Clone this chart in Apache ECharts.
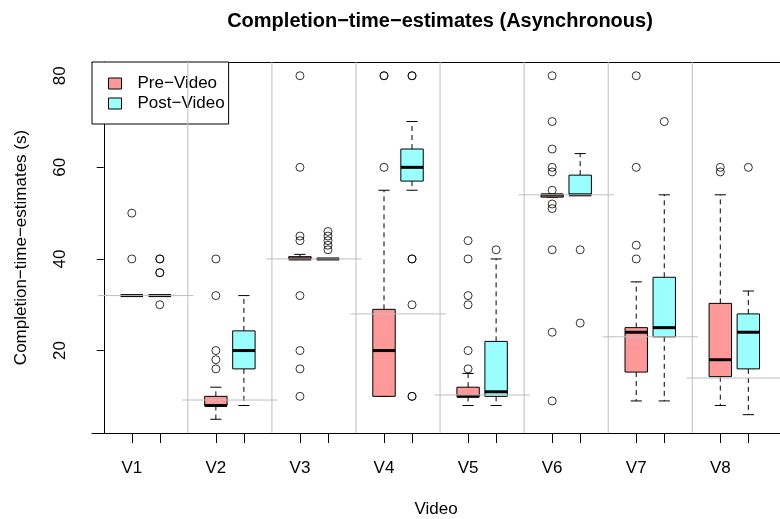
<!DOCTYPE html>
<html>
<head>
<meta charset="utf-8">
<script src="https://cdn.jsdelivr.net/npm/echarts@6/dist/echarts.min.js"></script>
<style>
  html, body { margin: 0; padding: 0; background: #fff; }
  #main { width: 780px; height: 519px; }
</style>
</head>
<body>
<div id="main"></div>
<script>
// values (seconds)
const videos = ['V1', 'V2', 'V3', 'V4', 'V5', 'V6', 'V7', 'V8'];

// [lower whisker, Q1, median, Q3, upper whisker]
const preStats = [
  [32, 32, 32, 32, 32],
  [5, 8, 8, 10, 12],
  [40, 40, 40, 40.5, 41],
  [10, 10, 20, 29, 55],
  [8, 10, 10, 12, 15],
  [53.5, 53.5, 54, 54, 54],
  [9, 15.3, 24, 25, 35],
  [8, 14.3, 18, 30.3, 54]
];
const postStats = [
  [32, 32, 32, 32, 32],
  [8, 16, 20, 24.3, 32],
  [40, 40, 40, 40, 40],
  [55, 57, 60, 64, 70],
  [8, 10, 11, 22, 40],
  [54, 54, 54, 58.3, 63],
  [9, 23, 25, 36, 54],
  [6, 16, 24, 28, 33]
];
const preOutliers = [
  [50, 40],
  [40, 32, 20, 18, 16],
  [80, 60, 45, 44, 32, 20, 16, 10],
  [80, 80, 60],
  [44, 40, 32, 30, 20, 16],
  [80, 70, 64, 60, 59, 55, 52, 51, 42, 24, 9],
  [80, 60, 43, 40],
  [60, 59]
];
const postOutliers = [
  [40, 40, 37, 37, 30],
  [],
  [46, 45, 44, 43, 42],
  [80, 80, 40, 40, 30, 10, 10],
  [42],
  [42, 26],
  [70],
  [60]
];
// grey reference line per video
const actualTimes = [32, 9.2, 40, 28, 10.3, 54, 23, 14];

const yTicks = [20, 40, 60, 80];
const Y_MIN = 2, Y_MAX = 83;
const X_MIN = -0.42, X_MAX = 24.13;

const prePos = videos.map((v, i) => 1 + 3 * i);
const postPos = videos.map((v, i) => 2 + 3 * i);
const centers = videos.map((v, i) => 1.5 + 3 * i);
const dividers = videos.slice(1).map((v, i) => 3 + 3 * i);

const chart = echarts.init(document.getElementById('main'));

function renderBox(params, api) {
  const x = api.value(0);
  const low = api.coord([x, api.value(1)]);
  const q1 = api.coord([x, api.value(2)]);
  const med = api.coord([x, api.value(3)]);
  const q3 = api.coord([x, api.value(4)]);
  const high = api.coord([x, api.value(5)]);
  const w = api.size([0.8, 0])[0];
  const cx = low[0];
  const dash = { stroke: '#000', lineWidth: 1, lineDash: [5, 4] };
  const solid = { stroke: '#000', lineWidth: 1 };
  return {
    type: 'group',
    children: [
      { type: 'line', shape: { x1: cx, y1: q3[1], x2: cx, y2: high[1] }, style: dash },
      { type: 'line', shape: { x1: cx, y1: q1[1], x2: cx, y2: low[1] }, style: dash },
      { type: 'line', shape: { x1: cx - w / 4, y1: high[1], x2: cx + w / 4, y2: high[1] }, style: solid },
      { type: 'line', shape: { x1: cx - w / 4, y1: low[1], x2: cx + w / 4, y2: low[1] }, style: solid },
      {
        type: 'rect',
        shape: { x: cx - w / 2, y: q3[1], width: w, height: q1[1] - q3[1] },
        style: { fill: api.visual('color'), stroke: '#000', lineWidth: 1 }
      },
      { type: 'line', shape: { x1: cx - w / 2, y1: med[1], x2: cx + w / 2, y2: med[1] }, style: { stroke: '#000', lineWidth: 3 } }
    ]
  };
}

function boxSeries(name, color, pos, stats) {
  return {
    name: name,
    type: 'custom',
    renderItem: renderBox,
    itemStyle: { color: color },
    encode: { x: 0, y: [1, 2, 3, 4, 5] },
    data: stats.map((s, i) => [pos[i]].concat(s)),
    z: 3,
    silent: true
  };
}

function outlierData(pos, groups) {
  const out = [];
  groups.forEach((g, i) => g.forEach(v => out.push([pos[i], v])));
  return out;
}

const font = { fontFamily: 'Liberation Sans', fontSize: 17, color: '#000' };

const option = {
  animation: false,
  title: {
    text: 'Completion\u2212time\u2212estimates (Asynchronous)',
    left: 440,
    textAlign: 'center',
    top: 11,
    padding: 0,
    textStyle: { fontFamily: 'Liberation Sans', fontSize: 20, fontWeight: 'bold', color: '#000' }
  },
  legend: {
    data: ['Pre\u2212Video', 'Post\u2212Video'],
    orient: 'vertical',
    left: 92,
    top: 62,
    padding: [13, 4, 12, 16],
    itemGap: 3,
    itemWidth: 13,
    itemHeight: 11,
    icon: 'rect',
    itemStyle: { borderColor: '#000', borderWidth: 1 },
    backgroundColor: '#fff',
    borderColor: '#000',
    borderWidth: 1,
    borderRadius: 0,
    selectedMode: false,
    z: 1,
    textStyle: Object.assign({ lineHeight: 17, padding: [0, 0, 0, 11] }, font)
  },
  grid: { left: 92, right: 0, top: 62, bottom: 86, outerBoundsMode: 'none' },
  xAxis: [
    {
      type: 'value',
      min: X_MIN,
      max: X_MAX,
      name: 'Video',
      nameLocation: 'middle',
      nameGap: 68,
      nameTextStyle: font,
      axisLine: { lineStyle: { color: '#000' } },
      axisTick: { show: true, length: 10, lineStyle: { color: '#000' }, customValues: prePos.concat(postPos) },
      axisLabel: Object.assign({
        margin: 27,
        customValues: prePos,
        formatter: v => videos[prePos.indexOf(v)] || ''
      }, font),
      splitLine: { show: false }
    },
    {
      // top edge of the frame
      type: 'value',
      position: 'top',
      min: X_MIN,
      max: X_MAX,
      axisLine: { show: true, lineStyle: { color: '#000' } },
      axisTick: { show: false },
      axisLabel: { show: false },
      splitLine: { show: false }
    }
  ],
  yAxis: {
    type: 'value',
    min: Y_MIN,
    max: Y_MAX,
    name: 'Completion\u2212time\u2212estimates (s)',
    nameLocation: 'middle',
    nameRotate: 90,
    nameGap: 62,
    nameTextStyle: font,
    axisLine: { show: true, lineStyle: { color: '#000' } },
    axisTick: { show: true, length: 7, lineStyle: { color: '#000' }, customValues: yTicks },
    axisLabel: Object.assign({ margin: 23, rotate: 90, customValues: yTicks }, font),
    splitLine: { show: false }
  },
  series: [
    {
      type: 'custom',
      silent: true,
      z: 10,
      renderItem: (params, api) => {
        const a = api.coord([api.value(0), Y_MIN]);
        const b = api.coord([api.value(0), Y_MAX]);
        return { type: 'line', shape: { x1: a[0], y1: a[1], x2: b[0], y2: b[1] }, style: { stroke: '#bebebe', lineWidth: 1 } };
      },
      encode: { x: 0 },
      data: dividers.map(d => [d])
    },
    boxSeries('Pre\u2212Video', '#ff9999', prePos, preStats),
    boxSeries('Post\u2212Video', '#99ffff', postPos, postStats),
    {
      type: 'scatter',
      silent: true,
      symbol: 'circle',
      symbolSize: 8,
      itemStyle: { color: 'rgba(0,0,0,0)', borderColor: '#000', borderWidth: 1 },
      data: outlierData(prePos, preOutliers).concat(outlierData(postPos, postOutliers)),
      z: 4
    },
    {
      type: 'custom',
      silent: true,
      z: 5,
      renderItem: (params, api) => {
        const a = api.coord([api.value(0) - 1.7, api.value(1)]);
        const b = api.coord([api.value(0) + 1.7, api.value(1)]);
        return { type: 'line', shape: { x1: a[0], y1: a[1], x2: b[0], y2: b[1] }, style: { stroke: '#bebebe', lineWidth: 1 } };
      },
      encode: { x: 0, y: 1 },
      data: centers.map((c, i) => [c, actualTimes[i]])
    }
  ]
};

chart.setOption(option);
</script>
</body>
</html>
